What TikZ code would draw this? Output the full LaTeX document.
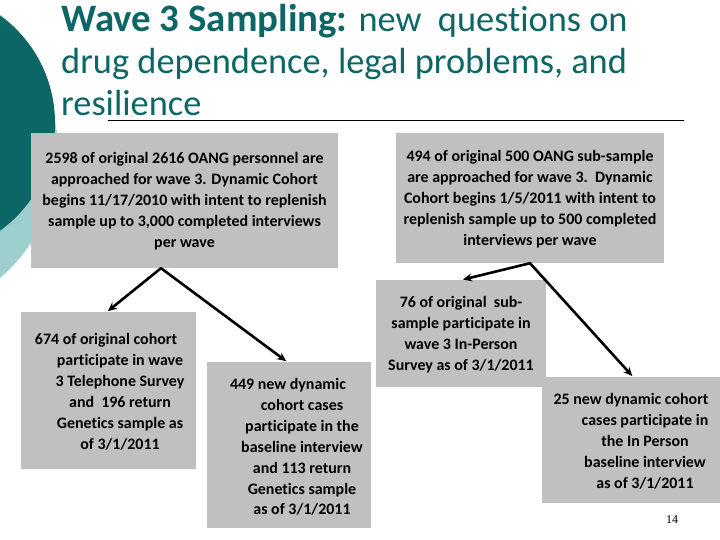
\documentclass[tikz,border=0pt]{standalone}
\usepackage{fontspec}
\setmainfont{Carlito}[Ligatures=NoCommon]
\newfontfamily\pagefont{Liberation Serif}
\usetikzlibrary{arrows.meta,calc,positioning}
\definecolor{svTeal}{HTML}{0D6666}
\definecolor{svLight}{HTML}{9ECFCF}
\definecolor{svGray}{HTML}{C0C0C0}
\tikzset{
 slide/.style={line cap=round,line join=round,x=1bp,y=-1bp},
 panel/.style={rectangle,fill=svGray,draw=none,inner sep=0pt},
 panetext/.style={font=\fontsize{16}{21}\selectfont\bfseries,align=center,inner sep=0pt,text=black},
 headline/.style={font=\fontsize{36.5}{42}\selectfont,text=svTeal,anchor=base west,inner sep=0pt},
 rule/.style={draw=black,line width=.8bp},
 link/.style={draw=black,line width=2.6bp,shorten >=1bp,-{Stealth[length=9bp,width=8bp]}},
 pagenum/.style={font=\pagefont\fontsize{12}{14}\selectfont,anchor=base,inner sep=0pt}
}
\newcommand{\firstline}[1]{\mbox{#1\hspace{28bp}}}

\begin{document}
\begin{tikzpicture}[slide]
 \useasboundingbox (0,0) rectangle (720,540);
 \clip (0,0) rectangle (720,540);
 % corner decoration
 \fill[svLight] (-108,152) circle[radius=166bp];
 \fill[svTeal] (-78,123) circle[radius=133bp];
 % title
 \node[headline] (title1) at (61,32) {{\fontsize{39}{42}\selectfont\bfseries Wave 3 Sampling:} new\ \ questions on};
 \node[headline] (title2) at (61,74) {drug dependence, legal problems, and};
 \node[headline] (title3) at (61,116) {resilience};
 \coordinate (ruleL) at (108,120); \coordinate (ruleR) at (684,120);
 \draw[rule] (ruleL)--(ruleR);
 % boxes
 \node[panel,minimum width=307bp,minimum height=135bp] (approach) at (184.5,200.5) {};
 \node[panel,minimum width=268bp,minimum height=130bp] (subapproach) at (530,198) {};
 \node[panel,minimum width=175bp,minimum height=157bp] (telephone) at (108.5,390.5) {};
 \node[panel,minimum width=164bp,minimum height=166bp] (dynamic) at (289,445) {};
 \node[panel,minimum width=170bp,minimum height=107bp] (inperson) at (461,333.5) {};
 \node[panel,minimum width=178bp,minimum height=126bp] (subdynamic) at (631,440) {};
 % box texts
 \node[panetext] (approachtxt) at (184.5,201.5) {2598 of original 2616 OANG personnel are\\approached for wave 3. Dynamic Cohort\\begins 11/17/2010 with intent to replenish\\sample up to 3,000 completed interviews\\per wave};
 \node[panetext] (subapproachtxt) at (530,199.5) {494 of original 500 OANG sub-sample\\are approached for wave 3.\ \ Dynamic\\Cohort begins 1/5/2011 with intent to\\replenish sample up to 500 completed\\interviews per wave};
 \node[panetext] (telephonetxt) at (120,392) {\firstline{674 of original cohort}\\participate in wave\\3 Telephone Survey\\and\ \ 196 return\\Genetics sample as\\of 3/1/2011};
 \node[panetext] (dynamictxt) at (302,447) {\firstline{449 new dynamic}\\cohort cases\\participate in the\\baseline interview\\and 113 return\\Genetics sample\\as of 3/1/2011};
 \node[panetext] (inpersontxt) at (461,335) {76 of original\ \ sub-\\sample participate in\\wave 3 In-Person\\Survey as of 3/1/2011};
 \node[panetext] (subdynamictxt) at (645,441.5) {\firstline{25 new dynamic cohort}\\cases participate in\\the In Person\\baseline interview\\as of 3/1/2011};
 % arrows
 \coordinate (forkA) at ($(approach.south)+(-23.5,0)$);
 \coordinate (forkB) at (subapproach.south);
 \draw[link] (forkA)--($(telephone.north)+(-1.5,0)$);
 \draw[link] (forkA)--($(dynamic.north)+(-2,0)$);
 \draw[link] (forkB)--($(inperson.north)+(1,0)$);
 \draw[link] (forkB)--($(subdynamic.north)+(2,0)$);
 \node[pagenum] (pageno) at (672,523) {14};
\end{tikzpicture}
\end{document}
